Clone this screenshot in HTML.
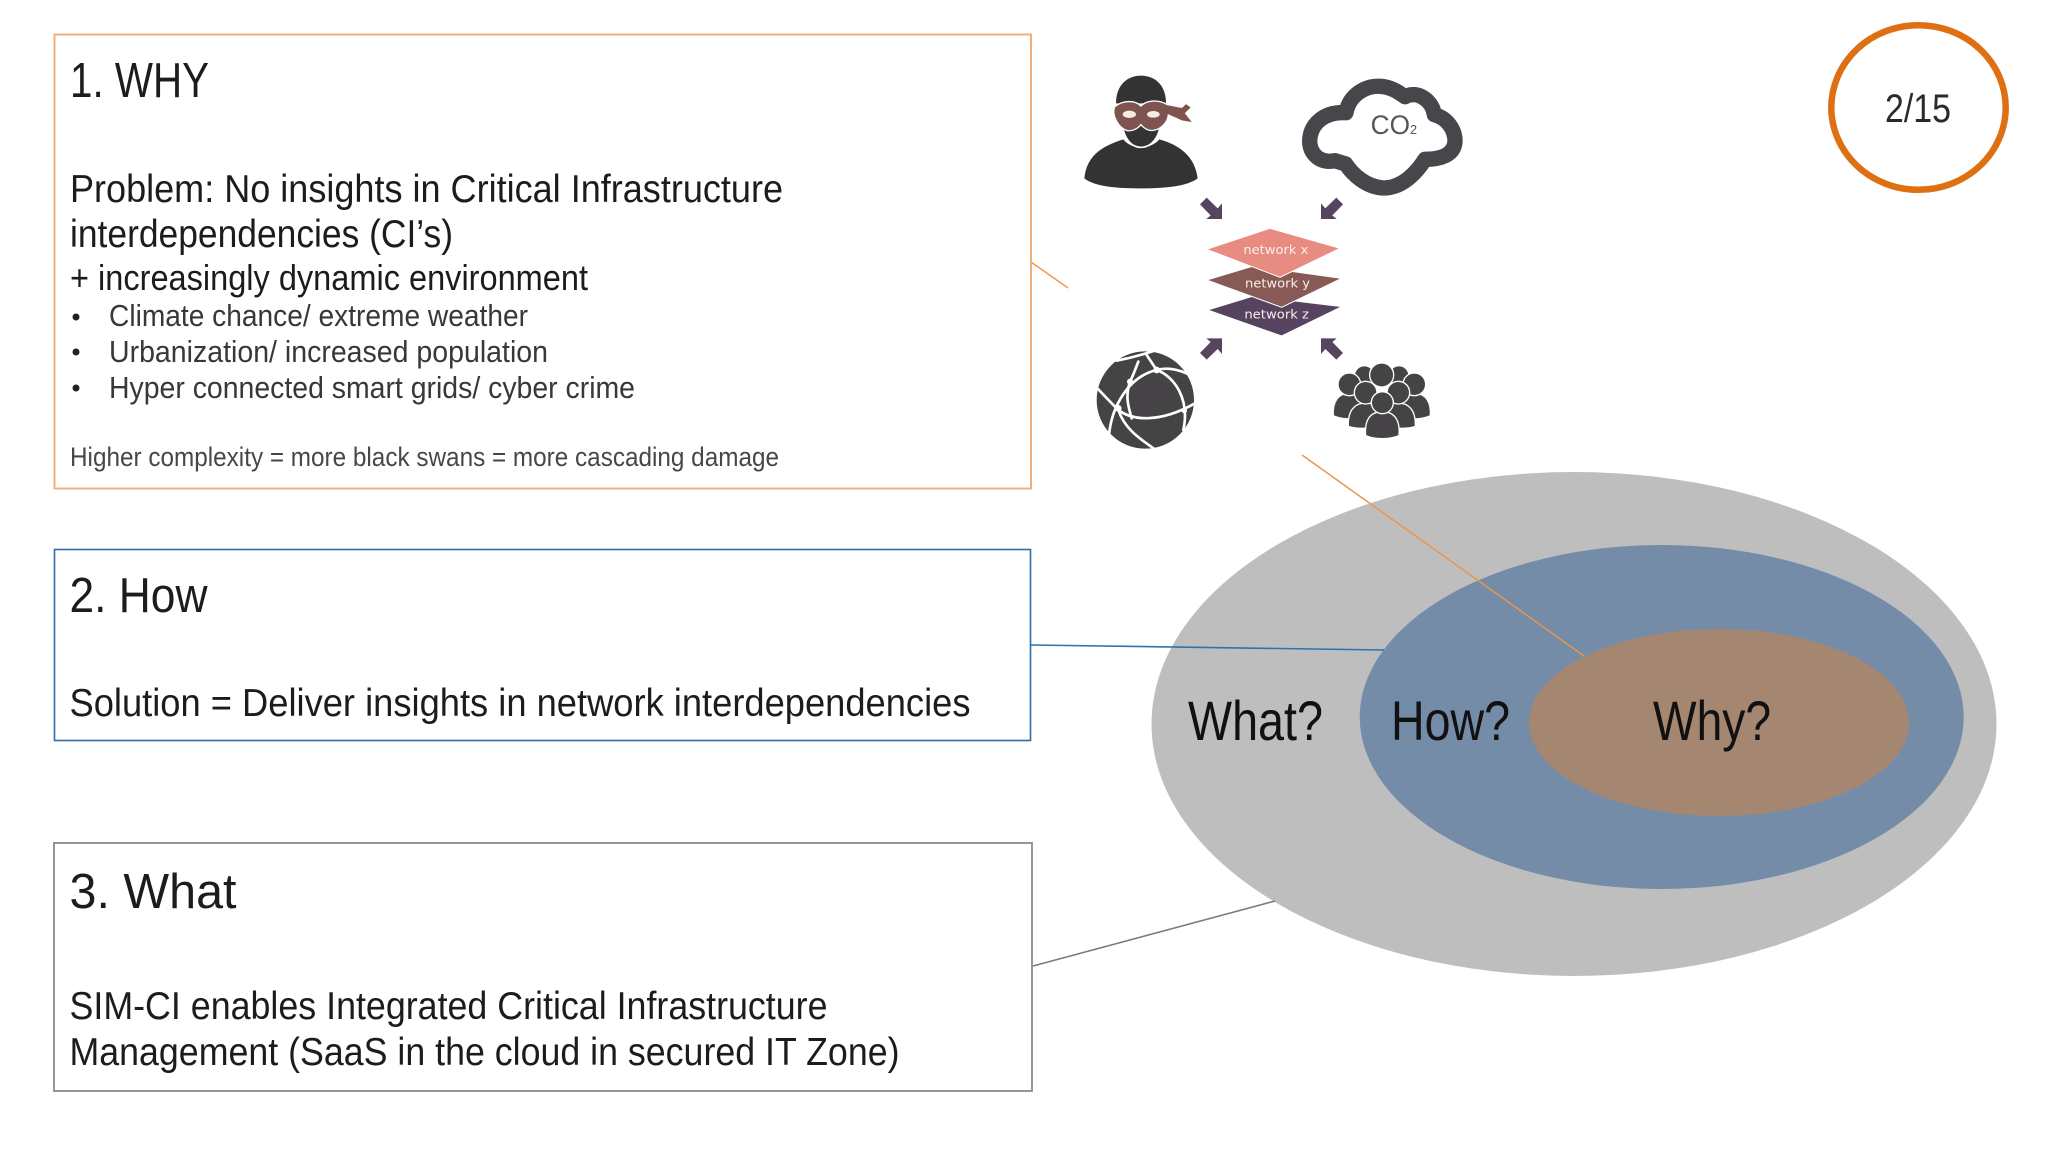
<!DOCTYPE html>
<html lang="en">
<head>
<meta charset="utf-8">
<title>Why How What</title>
<style>
html,body{margin:0;padding:0;background:#fff;width:2048px;height:1152px;overflow:hidden}
svg{display:block}
text{font-family:"Liberation Sans",sans-serif;fill:#1c1c1c}
.h{font-size:49px}
.m{font-size:39px}
.s{font-size:36px}
.b{font-size:31px;fill:#383838}
.f{font-size:27px;fill:#474747}
.q{font-size:56px;fill:#111}
.n{font-family:"DejaVu Sans",sans-serif;font-size:36px;fill:#fbeee8}
</style>
</head>
<body>
<svg width="2048" height="1152" viewBox="0 0 2048 1152" xmlns="http://www.w3.org/2000/svg">
<rect width="2048" height="1152" fill="#fff"/>

<!-- nested ellipses -->
<ellipse cx="1574" cy="724" rx="422.5" ry="252" fill="#bfbebf"/>
<ellipse cx="1661.7" cy="717" rx="302" ry="172" fill="#748ca8"/>
<ellipse cx="1719" cy="722.5" rx="190" ry="93.5" fill="#a58670"/>

<!-- connectors -->
<line x1="1031" y1="262" x2="1068" y2="288" stroke="#ee9a58" stroke-width="1.5"/>
<line x1="1302" y1="455" x2="1584" y2="656" stroke="#e8964f" stroke-width="1.5"/>
<line x1="1031" y1="645" x2="1384" y2="650" stroke="#2e73ad" stroke-width="1.6"/>
<line x1="1033" y1="966" x2="1275" y2="901" stroke="#7b7b7b" stroke-width="1.6"/>

<!-- boxes -->
<rect x="54.5" y="34.5" width="976.5" height="454" fill="#fff" stroke="#f0b07c" stroke-width="2"/>
<rect x="54.5" y="549.5" width="976" height="191" fill="#fff" stroke="#2f6da8" stroke-width="1.6"/>
<rect x="54" y="843" width="978" height="248" fill="#fff" stroke="#8a8a8a" stroke-width="1.8"/>

<!-- box 1 text -->
<text class="h" x="70" y="97" textLength="139" lengthAdjust="spacingAndGlyphs">1. WHY</text>
<text class="m" x="70" y="202" textLength="713" lengthAdjust="spacingAndGlyphs">Problem: No insights in Critical Infrastructure</text>
<text class="m" x="70" y="247" textLength="383" lengthAdjust="spacingAndGlyphs">interdependencies (CI’s)</text>
<text class="s" x="70" y="290" textLength="518" lengthAdjust="spacingAndGlyphs">+ increasingly dynamic environment</text>
<circle cx="76" cy="317" r="3.5" fill="#222"/>
<circle cx="76" cy="352" r="3.5" fill="#222"/>
<circle cx="76" cy="388" r="3.5" fill="#222"/>
<text class="b" x="109" y="326" textLength="419" lengthAdjust="spacingAndGlyphs">Climate chance/ extreme weather</text>
<text class="b" x="109" y="362" textLength="439" lengthAdjust="spacingAndGlyphs">Urbanization/ increased population</text>
<text class="b" x="109" y="398" textLength="526" lengthAdjust="spacingAndGlyphs">Hyper connected smart grids/ cyber crime</text>
<text class="f" x="70" y="466" textLength="709" lengthAdjust="spacingAndGlyphs">Higher complexity = more black swans = more cascading damage</text>

<!-- box 2 text -->
<text class="h" x="69.5" y="612" textLength="138" lengthAdjust="spacingAndGlyphs">2. How</text>
<text class="m" x="69.5" y="716" textLength="901" lengthAdjust="spacingAndGlyphs">Solution = Deliver insights in network interdependencies</text>

<!-- box 3 text -->
<text class="h" x="69.5" y="908" textLength="167" lengthAdjust="spacingAndGlyphs">3. What</text>
<text class="m" x="69.5" y="1019" textLength="758" lengthAdjust="spacingAndGlyphs">SIM-CI enables Integrated Critical Infrastructure</text>
<text class="m" x="69.5" y="1065" textLength="830" lengthAdjust="spacingAndGlyphs">Management (SaaS in the cloud in secured IT Zone)</text>

<!-- ellipse labels -->
<text class="q" x="1188" y="740" textLength="135" lengthAdjust="spacingAndGlyphs">What?</text>
<text class="q" x="1391" y="740" textLength="119" lengthAdjust="spacingAndGlyphs">How?</text>
<text class="q" x="1653" y="740" textLength="118" lengthAdjust="spacingAndGlyphs">Why?</text>

<!-- page badge -->
<ellipse cx="1918.5" cy="107.5" rx="87.2" ry="82.3" fill="#fff" stroke="#de6f12" stroke-width="6.5"/>
<text x="1885" y="122" font-size="40" textLength="66" lengthAdjust="spacingAndGlyphs" style="fill:#2a2a2a">2/15</text>

<!-- icon cluster, drawn in 3x coordinates -->
<g transform="translate(1040 50) scale(0.33333)">
  <!-- thief -->
  <path d="M133 385C140 320 180 290 250 268C275 300 330 300 358 268C420 285 465 320 473 385C440 410 370 415 303 415C230 415 165 410 133 385Z" fill="#343334"/>
  <path d="M245 215L362 215C360 260 335 292 303 292C270 292 250 260 245 215Z" fill="#343334" stroke="#fff" stroke-width="5"/>
  <path d="M228 160C228 105 262 77 303 77C345 77 378 105 378 160Z" fill="#343334"/>
  <path d="M224 170C250 150 285 150 303 168C320 150 355 148 380 163L425 172L438 160L455 172L437 190L460 219L425 213L385 195C382 225 350 247 325 240C315 237 308 230 303 224C295 234 280 244 262 242C235 234 214 195 224 170Z" fill="#7f5350" stroke="#fff" stroke-width="4"/>
  <ellipse cx="268" cy="193" rx="20" ry="11" fill="#f6ece6"/>
  <ellipse cx="340" cy="193" rx="19" ry="10" fill="#f6ece6"/>

  <!-- cloud -->
  <path d="M885 332C838 342 809 310 809 272C811 222 852 184 918 188C928 134 977 106 1022 109C1060 112 1082 132 1095 140C1133 120 1178 152 1183 194C1222 204 1246 240 1245 275C1242 316 1200 328 1155 328C1130 368 1085 415 1030 414C977 411 937 372 917 342Z" fill="#fff" stroke="#48464a" stroke-width="46" stroke-linejoin="round"/>
  <text x="992" y="252" font-size="80" style="fill:#55565a" textLength="118" lengthAdjust="spacingAndGlyphs">CO</text>
  <text x="1110" y="252" font-size="38" style="fill:#55565a">2</text>

  <!-- arrows -->
  <g fill="#56455f">
    <polygon points="480,463 500,443 533,475 546,460 546,507 499,507 512,496"/>
    <polygon transform="translate(1389 0) scale(-1 1)" points="480,463 500,443 533,475 546,460 546,507 499,507 512,496"/>
    <polygon transform="translate(0 1372) scale(1 -1)" points="480,463 500,443 533,475 546,460 546,507 499,507 512,496"/>
    <polygon transform="translate(1389 1372) scale(-1 -1)" points="480,463 500,443 533,475 546,460 546,507 499,507 512,496"/>
  </g>

  <!-- stacked networks -->
  <polygon points="503,780 640,738 905,770 725,858" fill="#56435f" stroke="#fff" stroke-width="3"/>
  <polygon points="500,690 640,648 905,685 725,772" fill="#875a55" stroke="#fff" stroke-width="3"/>
  <polygon points="500,598 690,535 900,595 720,682" fill="#e88b80" stroke="#fff" stroke-width="3"/>
  <text class="n" x="610" y="612" textLength="195" lengthAdjust="spacingAndGlyphs">network x</text>
  <text class="n" x="615" y="713" textLength="195" lengthAdjust="spacingAndGlyphs">network y</text>
  <text class="n" x="613" y="806" textLength="194" lengthAdjust="spacingAndGlyphs">network z</text>

  <!-- globe -->
  <g transform="translate(135 870)">
    <circle cx="181" cy="180" r="146" fill="#464347"/>
    <g fill="none" stroke="#fff" stroke-width="8" stroke-linecap="round">
      <path d="M95 62C130 55 170 45 215 30"/>
      <path d="M28 135C60 170 80 190 100 210C140 240 220 252 330 190"/>
      <path d="M215 90C270 110 315 180 295 270"/>
      <path d="M72 285C80 200 130 110 215 90C250 80 295 90 330 115"/>
      <path d="M100 210C120 270 170 300 220 335"/>
      <path d="M135 125C120 170 130 200 140 235"/>
      <path d="M160 65C150 90 145 105 135 125"/>
      <path d="M185 45C195 60 205 75 215 90"/>
    </g>
    <circle cx="135" cy="125" r="9" fill="#fff"/>
    <circle cx="215" cy="90" r="10" fill="#fff"/>
    <circle cx="100" cy="205" r="10" fill="#fff"/>
    <circle cx="298" cy="212" r="8" fill="#fff"/>
  </g>

  <!-- people -->
  <g transform="translate(855 915)" fill="#454346" stroke="#fff" stroke-width="4">
    <circle cx="118" cy="62" r="30"/>
    <circle cx="222" cy="62" r="30"/>
    <circle cx="170" cy="60" r="36"/>
    <path d="M25 182C22 140 40 116 70 115L110 115L110 190C80 194 45 192 25 182Z"/>
    <path d="M316 182C319 140 301 116 271 115L231 115L231 190C261 194 296 192 316 182Z"/>
    <circle cx="73" cy="88" r="34"/>
    <circle cx="268" cy="88" r="34"/>
    <path d="M70 214C68 165 90 144 122 144C150 144 172 160 172 214C150 222 90 222 70 214Z"/>
    <path d="M271 214C273 165 251 144 219 144C191 144 169 160 169 214C191 222 251 222 271 214Z"/>
    <circle cx="122" cy="113" r="34"/>
    <circle cx="220" cy="113" r="34"/>
    <path d="M122 242C118 195 135 170 172 170C208 170 226 195 222 242C190 254 150 254 122 242Z"/>
    <circle cx="172" cy="143" r="33"/>
  </g>
</g>
</svg>
</body>
</html>
